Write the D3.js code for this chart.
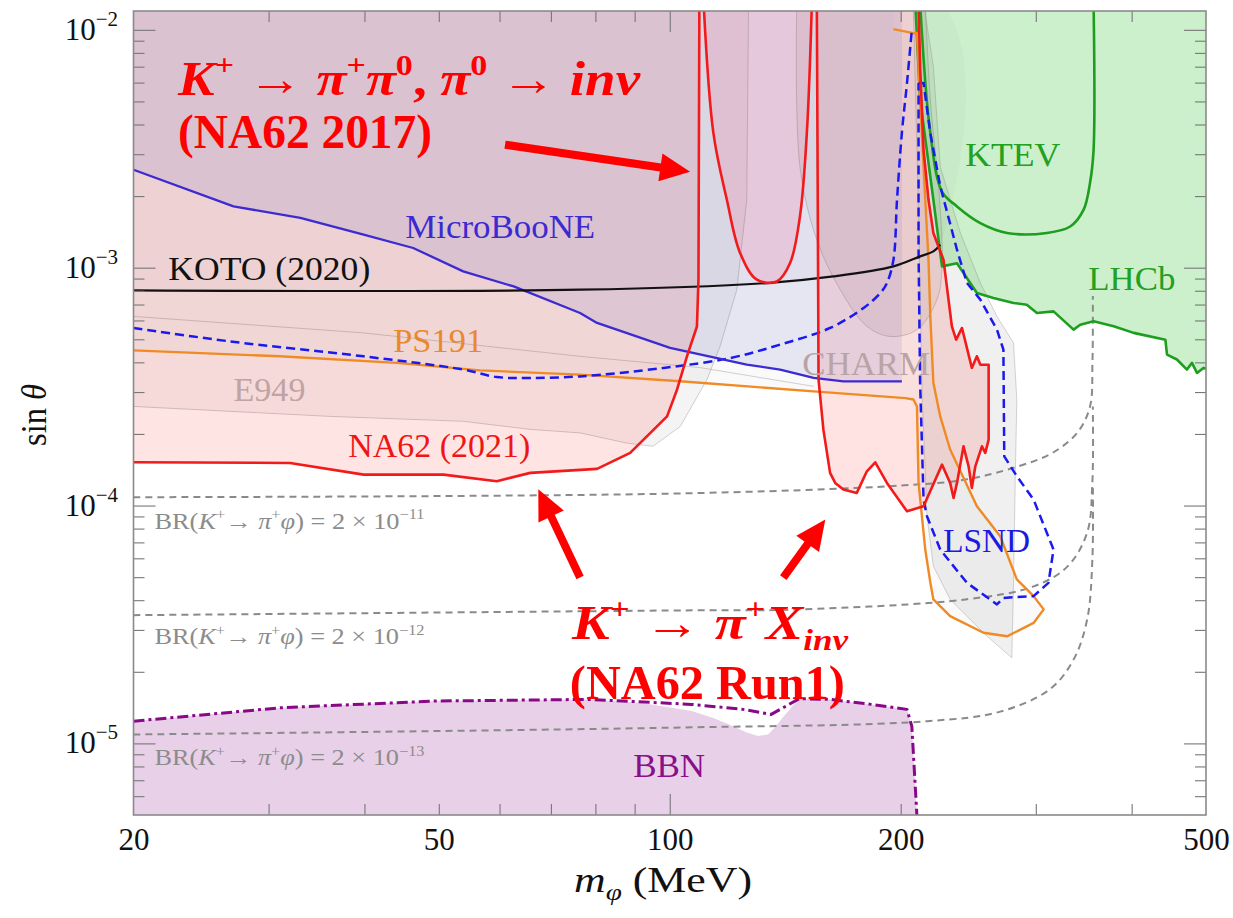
<!DOCTYPE html>
<html><head><meta charset="utf-8">
<script src="https://cdn.jsdelivr.net/npm/d3@7"></script>
<style>body{margin:0;background:#fff}svg{display:block;font-family:"Liberation Serif",serif}</style>
</head><body><svg id="c" width="1233" height="918"></svg>
<script>
// ---------------- data (mass in MeV, sin theta) ----------------
const xTickValues = [20, 50, 100, 200, 500];
const xTickLabels = ['20', '50', '100', '200', '500'];
const yTickValues = [1e-5, 1e-4, 1e-3, 1e-2];
const yTickExponents = ['\u22125', '\u22124', '\u22123', '\u22122'];

const na62_2021_low = [[20,1.52e-4],[32,1.51e-4],[39.9,1.349e-4],[50.7,1.349e-4],[59.5,1.265e-4],[65.8,1.372e-4],[80.4,1.426e-4],[88.8,1.665e-4],[99.2,2.37e-4],[102.2,3.07e-4],[105.3,4.24e-4],[108.5,5.66e-4],[109.0,8.9e-4],[109.3,1.3e-2]];
const na62_2021_high = [[155.5,1.3e-2],[156.3,3.38e-4],[158.6,2.08e-4],[161.8,1.372e-4],[164.3,1.245e-4],[168.4,1.167e-4],[175.3,1.13e-4],[180.7,1.393e-4],[185.3,1.52e-4],[191.9,1.245e-4],[203.8,9.46e-5],[214.2,9.93e-5],[226.4,1.486e-4],[232,1.245e-4],[234.4,1.076e-4],[236.8,1.245e-4],[241.5,1.774e-4],[245.2,1.462e-4],[247.6,1.186e-4],[250.2,1.462e-4],[255.2,1.774e-4],[257.8,1.664e-4],[260.4,1.89e-4],[260.4,3.91e-4],[254,3.91e-4],[251.4,4.24e-4],[247.6,3.79e-4],[240.4,5.58e-4],[236.2,4.98e-4],[233.2,5.67e-4],[227.4,1.08e-3],[220.6,1.4e-3],[217.4,1.93e-3],[214.2,3.13e-3],[212,7.0e-3],[211,1.3e-2]];
const na62_2017 = [[110.7,1.3e-2],[114,3.68e-3],[118.7,1.93e-3],[123.5,1.154e-3],[129.9,8.9e-4],[137.9,8.75e-4],[143.5,1.046e-3],[147.8,1.64e-3],[150.9,3.68e-3],[153.2,1.3e-2]];
const e949 = [[20,2.61e-4],[36.1,2.37e-4],[53.8,2.26e-4],[65.8,2.09e-4],[76.4,2.02e-4],[87.9,1.83e-4],[95.1,1.775e-4],[103.2,2.15e-4],[111.8,3.38e-4],[116.3,4.67e-4],[122.3,8.08e-4],[126,1.93e-3],[126.7,1.3e-2]];
const charm = [[146.4,1.3e-2],[147.8,2.66e-3],[155.5,1.31e-3],[166.8,8.08e-4],[180.7,5.67e-4],[193.8,5.14e-4],[210,5.49e-4],[223,7.34e-4],[226.4,1.013e-3],[224.8,1.93e-3],[218.6,5.08e-3],[215.3,1.3e-2]];
const grayBand = [[207.6,1.3e-2],[214.2,1.3e-2],[220.6,7.01e-3],[225.2,2.66e-3],[239.2,1.4e-3],[254,8.62e-4],[267,6.24e-4],[280.6,4.83e-4],[283.4,2.79e-4],[282,1.246e-4],[280.6,4.75e-5],[279.2,2.29e-5],[259.2,2.82e-5],[232,4.03e-5],[220.6,5.56e-5],[216.4,9.02e-5],[213.4,2.79e-4],[210.8,1.93e-3]];
const thinLine = [[20,6.24e-4],[39.9,5.32e-4],[76.4,4.24e-4],[109.6,3.8e-4],[154,3.17e-4]];
const ps191 = [[20,4.49e-4],[31,4.24e-4],[44.1,3.98e-4],[56.6,3.70e-4],[76.4,3.55e-4],[103.2,3.33e-4],[154,3.02e-4],[202.8,2.83e-4],[207.8,2.79e-4],[210,2.61e-4],[211,1.249e-4],[215.3,6.53e-5],[218.6,4.75e-5],[220.6,4.03e-5],[232,3.43e-5],[256.4,2.92e-5],[275.2,2.82e-5],[298,3.21e-5],[307.2,3.66e-5],[298,4.16e-5],[283.4,4.89e-5],[269.6,7.43e-5],[251.4,9.93e-5],[232,1.72e-4],[225.2,2.37e-4],[220.6,3.28e-4],[218.6,6.24e-4],[217.4,1.08e-3],[215.3,1.93e-3],[212,5.08e-3],[210,9.7e-3],[207.8,9.68e-3],[195.7,1.007e-2]];
const microboone = [[20,2.58e-3],[27,1.81e-3],[33,1.62e-3],[39.9,1.376e-3],[46.3,1.21e-3],[53.8,9.65e-4],[62.6,8.34e-4],[76.4,6.45e-4],[80.4,5.86e-4],[100.1,4.6e-4],[126,3.91e-4],[139.3,3.73e-4],[154,3.44e-4],[168.4,3.33e-4],[200.7,3.33e-4]];
const koto = [[20,8.03e-4],[76.4,8.08e-4],[133.9,8.62e-4],[163.4,9.19e-4],[195.7,1.013e-3],[212,1.116e-3],[220.6,1.171e-3],[225.2,1.249e-3]];
const dashedBlueLeft = [[20,5.58e-4],[26.7,4.9e-4],[39.9,4.24e-4],[53.8,3.73e-4],[59.5,3.47e-4],[65.8,3.44e-4],[76.4,3.49e-4],[98.1,3.79e-4],[119.9,4.17e-4],[139.3,4.75e-4],[161.8,5.58e-4],[178.9,6.77e-4],[188.1,7.82e-4],[191.9,8.62e-4],[195.7,1.08e-3],[197.8,1.93e-3],[200.7,3.68e-3],[203.8,5.97e-3],[206.8,1e-2]];
const lsnd = [[211,5.97e-3],[214.2,5.97e-3],[218.6,3.68e-3],[225.2,2.2e-3],[236.8,1.19e-3],[244,8.62e-4],[254,7.34e-4],[267,5.49e-4],[272.2,4.52e-4],[272.9,1.61e-4],[283.4,1.328e-4],[298,1.06e-4],[316.4,6.53e-5],[311.6,4.73e-5],[298,4.16e-5],[272.2,4.09e-5],[267,3.84e-5],[244,4.73e-5],[225.2,6.53e-5],[216.4,9.02e-5],[214.2,1.06e-4],[212,3.29e-4],[211,1.19e-3],[211,5.97e-3]];
const lhcb = [[208.9,1.3e-2],[212,5.08e-3],[220.6,1.93e-3],[225.2,1.156e-3],[226.4,1.013e-3],[236.8,1.043e-3],[251.4,7.82e-4],[264.2,7.46e-4],[280.6,7.11e-4],[292,6.99e-4],[301,6.45e-4],[316.4,6.55e-4],[336,5.49e-4],[342.8,5.76e-4],[356.8,5.95e-4],[379,5.67e-4],[402.4,5.32e-4],[442.6,4.98e-4],[444.8,4.31e-4],[458.2,4.11e-4],[472.2,3.73e-4],[479.4,3.98e-4],[486.6,3.61e-4],[496.2,3.79e-4],[505,3.73e-4]];
const ktev = [[212,1.3e-2],[218.6,3.68e-3],[226.4,2.09e-3],[236.8,1.81e-3],[254,1.54e-3],[275.2,1.4e-3],[310.2,1.4e-3],[332.6,1.49e-3],[346.2,1.75e-3],[353,2.27e-3],[356.8,3.13e-3],[356.8,1.3e-2]];
const br11 = [[20,1.084e-4],[100,1.122e-4],[200,1.213e-4],[243,1.286e-4],[284,1.459e-4],[316,1.671e-4],[340,2.03e-4],[353,2.61e-4],[355.6,4e-4],[356,7.6e-4]];
const br12 = [[20,3.46e-5],[100,3.62e-5],[147.8,3.66e-5],[243,4.03e-5],[298,4.57e-5],[330,5.55e-5],[350,7.7e-5],[355.5,1.25e-4],[356,2.61e-4]];
const br13 = [[20,1.09e-5],[100,1.164e-5],[216.6,1.24e-5],[269.6,1.36e-5],[313,1.69e-5],[336,2.25e-5],[350,3.32e-5],[355.5,5.9e-5],[356,1.25e-4]];
const bbnLine = [[20,1.24e-5],[31.2,1.413e-5],[49.5,1.507e-5],[78.5,1.531e-5],[106.8,1.459e-5],[124.6,1.39e-5],[135.6,1.324e-5],[147.5,1.542e-5],[161.8,1.531e-5],[183,1.459e-5],[203.8,1.39e-5],[206.8,1.18e-5],[210.1,4.8e-6]];
const bbnFill = [[20,1.24e-5],[31.2,1.413e-5],[49.5,1.507e-5],[78.5,1.531e-5],[91.6,1.483e-5],[106.8,1.367e-5],[114,1.28e-5],[120.8,1.183e-5],[126,1.11e-5],[130.4,1.074e-5],[134.5,1.092e-5],[137.5,1.18e-5],[140.9,1.303e-5],[147.5,1.542e-5],[161.8,1.531e-5],[183,1.459e-5],[203.8,1.39e-5],[206.8,1.18e-5],[210.1,4.8e-6],[19,4.8e-6]];

const regionLabels = [
  {t:'MicroBooNE', m:45.2, s:1.337e-3, w:190, c:'#3a2ad0'},
  {t:'KOTO (2020)', m:22.2, s:8.9e-4, w:202, c:'#111111'},
  {t:'PS191', m:43.6, s:4.44e-4, w:90, c:'#e8892e'},
  {t:'E949', m:27.0, s:2.76e-4, w:72, c:'#c0a3a3'},
  {t:'NA62 (2021)', m:38.1, s:1.607e-4, w:182, c:'#f01515'},
  {t:'CHARM', m:148.8, s:3.55e-4, w:128, c:'#b9a3a5'},
  {t:'KTEV', m:242.8, s:2.68e-3, w:95, c:'#22a022'},
  {t:'LHCb', m:351.2, s:8.08e-4, w:87, c:'#22a022'},
  {t:'LSND', m:227.2, s:6.35e-5, w:87, c:'#1a1ae0'},
  {t:'BBN', m:89.6, s:7.2e-6, w:72, c:'#8a108a'}
];
const brLabels = [
  {exp:'\u221211', m:21.3, s:8.0e-5},
  {exp:'\u221212', m:21.3, s:2.61e-5},
  {exp:'\u221213', m:21.3, s:8.08e-6}
];
const arrows = [
  {from:[61.0,3.29e-3], to:[106.3,2.53e-3]},
  {from:[76.4,4.98e-5], to:[67.4,1.17e-4]},
  {from:[140.6,4.98e-5], to:[159.5,8.73e-5]}
];

// ---------------- drawing ----------------
const svg = d3.select('#c');
const L=133.5, R=1206, T=11, B=815;
const x = d3.scaleLog().domain([20,500]).range([L,R]);
const y = d3.scaleLog().domain([5e-6,1.2e-2]).range([B,T]);
const TOPV = 1.3e-2;

svg.append('rect').attr('width',1233).attr('height',918).attr('fill','#fff');
svg.append('defs').append('clipPath').attr('id','clip').append('rect')
  .attr('x',L).attr('y',T).attr('width',R-L).attr('height',B-T);
const plot = svg.append('g').attr('clip-path','url(#clip)');

const lin = d3.line().x(d=>x(d[0])).y(d=>y(d[1]));
const smooth = d3.line().x(d=>x(d[0])).y(d=>y(d[1])).curve(d3.curveCatmullRom.alpha(0.5));

function fillPoly(pts, fill, gen=lin){
  plot.append('path').attr('d', gen(pts)+'Z').attr('fill', fill).attr('stroke','none');
}
function stroke(pts, color, w, dash, gen=lin, op=1){
  const p = plot.append('path').attr('d', gen(pts)).attr('fill','none')
    .attr('stroke', color).attr('stroke-width', w).attr('stroke-opacity',op)
    .attr('stroke-linejoin','round');
  if (dash) p.attr('stroke-dasharray', dash);
  return p;
}

// fills
fillPoly(e949.concat([[19,TOPV]]), 'rgba(125,105,105,0.075)');
fillPoly(charm, 'rgba(125,105,105,0.10)', smooth);
fillPoly(grayBand, 'rgba(150,150,150,0.14)');
fillPoly(na62_2021_low.concat([[19,TOPV]]), 'rgba(255,0,0,0.105)');
fillPoly(na62_2021_high, 'rgba(255,0,0,0.11)');
fillPoly(ps191.concat([[195.7,TOPV],[19,TOPV]]), 'rgba(140,130,130,0.04)');
fillPoly(microboone.concat([[200.7,TOPV],[19,TOPV]]), 'rgba(80,75,190,0.115)');
fillPoly(koto.concat([[225.2,TOPV],[19,TOPV]]), 'rgba(150,80,150,0.035)', smooth);
fillPoly(na62_2017, 'rgba(255,30,70,0.12)', smooth);
fillPoly(lhcb.concat([[505,TOPV]]), 'rgba(0,175,0,0.2)');
fillPoly(bbnFill, 'rgba(140,20,140,0.2)');

// outlines of gray regions
stroke(e949, 'rgb(120,100,100)', 1, null, lin, 0.3);
stroke(charm, 'rgb(120,100,100)', 1, null, smooth, 0.3);
stroke(grayBand.concat([grayBand[0]]), 'rgb(120,120,120)', 1, null, lin, 0.3);
stroke(thinLine, 'rgb(120,100,100)', 1, null, lin, 0.3);

// branching-ratio dashed lines
[br11, br12, br13].forEach(d => stroke(d, '#8a8a8a', 2, '7,5', smooth));

// green
stroke(lhcb, '#1e9e1e', 2.6);
stroke(ktev, '#1e9e1e', 2.6, null, smooth);
// orange
stroke(ps191, '#f08a24', 2.4);
// blue dashed
stroke(dashedBlueLeft, '#1a1af0', 2.5, '9,5', smooth);
stroke(lsnd, '#1a1af0', 2.5, '9,5');
// MicroBooNE
stroke(microboone, '#3b2bd0', 2.3);
// KOTO
stroke(koto, '#111', 2.2, null, smooth);
// red
stroke(na62_2021_low, '#f21a1a', 2.6);
stroke(na62_2021_high, '#f21a1a', 2.6);
stroke(na62_2017, '#f21a1a', 2.6, null, smooth);
// BBN
stroke(bbnLine, '#880888', 3, '11,4,3,4');

// labels inside the plot
const labG = svg.append('g').attr('clip-path','url(#clip)');
regionLabels.forEach(l => {
  labG.append('text').attr('x', x(l.m)).attr('y', y(l.s)).text(l.t)
    .attr('fill', l.c).attr('font-size', 33)
    .attr('textLength', l.w).attr('lengthAdjust','spacingAndGlyphs');
});

function rich(textSel, segs, size){
  let shift = 0;
  segs.forEach(sg => {
    const ts = textSel.append('tspan').text(sg.t);
    let target = 0, fs = size;
    if (sg.sup){ target = -size*0.42; fs = size*0.62; }
    if (sg.sub){ target = size*0.22; fs = size*0.62; }
    ts.attr('dy', target - shift).attr('font-size', fs);
    shift = target;
    if (sg.it) ts.attr('font-style','italic');
  });
}

brLabels.forEach(b => {
  const t = labG.append('text').attr('x', x(b.m)).attr('y', y(b.s))
    .attr('fill','#8c8c8c').attr('font-size', 23)
    .attr('textLength', 270).attr('lengthAdjust','spacingAndGlyphs');
  rich(t, [{t:'BR('},{t:'K',it:1},{t:'+',sup:1},{t:'\u2192 '},{t:'\u03c0',it:1},{t:'+',sup:1},
           {t:'\u03c6',it:1},{t:') = 2 \u00d7 10'},{t:b.exp,sup:1}], 23);
});

// red annotations
const ann = svg.append('g').attr('fill','#ff0000').attr('font-weight','bold');
const a1 = ann.append('text').attr('x', x(22.86)).attr('y', y(5.33e-3)).attr('font-size',48)
  .attr('textLength', 462).attr('lengthAdjust','spacingAndGlyphs');
rich(a1, [{t:'K',it:1},{t:'+',sup:1},{t:' \u2192 '},{t:'\u03c0',it:1},{t:'+',sup:1},{t:'\u03c0',it:1},{t:'0',sup:1},
          {t:', '},{t:'\u03c0',it:1},{t:'0',sup:1},{t:' \u2192 '},{t:'inv',it:1}], 48);
ann.append('text').attr('x', x(22.86)).attr('y', y(3.19e-3)).attr('font-size',48)
  .attr('textLength', 254).attr('lengthAdjust','spacingAndGlyphs').text('(NA62 2017)');
const a3 = ann.append('text').attr('x', x(74.6)).attr('y', y(2.74e-5)).attr('font-size',48)
  .attr('textLength', 276).attr('lengthAdjust','spacingAndGlyphs');
rich(a3, [{t:'K',it:1},{t:'+',sup:1},{t:' \u2192 '},{t:'\u03c0',it:1},{t:'+',sup:1},{t:'X',it:1},{t:'inv',it:1,sub:1}], 48);
ann.append('text').attr('x', x(74.1)).attr('y', y(1.53e-5)).attr('font-size',48)
  .attr('textLength', 275).attr('lengthAdjust','spacingAndGlyphs').text('(NA62 Run1)');

arrows.forEach(a => {
  const x0=x(a.from[0]), y0=y(a.from[1]), x1=x(a.to[0]), y1=y(a.to[1]);
  const dx=x1-x0, dy=y1-y0, len=Math.hypot(dx,dy), ux=dx/len, uy=dy/len;
  const hl=30, hw=14;
  const bx=x1-ux*hl, by=y1-uy*hl;
  ann.append('line').attr('x1',x0).attr('y1',y0).attr('x2',bx+ux*2).attr('y2',by+uy*2)
    .attr('stroke','#ff0000').attr('stroke-width',8);
  ann.append('path').attr('d', `M${x1},${y1}L${bx-uy*hw},${by+ux*hw}L${bx+uy*hw},${by-ux*hw}Z`).attr('fill','#ff0000');
});

// ---------------- axes ----------------
const xMinor = [30,40,50,60,70,80,90,200,300,400];
const xMajor = [100];
const yMinor = [];
[1e-6,1e-5,1e-4,1e-3].forEach(dec => { for (let k=2;k<=9;k++){ const v=k*dec; if(v>=5e-6 && v<=1.2e-2) yMinor.push(v);} });

function styleAxis(g){ g.select('.domain').remove(); g.selectAll('line').attr('stroke','#777').attr('stroke-width',1.1); g.selectAll('text').remove(); }
svg.append('g').attr('transform',`translate(0,${B})`).call(d3.axisBottom(x).tickValues(xMinor).tickSize(-11)).call(styleAxis);
svg.append('g').attr('transform',`translate(0,${B})`).call(d3.axisBottom(x).tickValues(xMajor).tickSize(-21)).call(styleAxis);
svg.append('g').attr('transform',`translate(0,${T})`).call(d3.axisTop(x).tickValues(xMinor).tickSize(-11)).call(styleAxis);
svg.append('g').attr('transform',`translate(0,${T})`).call(d3.axisTop(x).tickValues(xMajor).tickSize(-21)).call(styleAxis);
svg.append('g').attr('transform',`translate(${L},0)`).call(d3.axisLeft(y).tickValues(yMinor).tickSize(-11)).call(styleAxis);
svg.append('g').attr('transform',`translate(${L},0)`).call(d3.axisLeft(y).tickValues(yTickValues).tickSize(-22)).call(styleAxis);
svg.append('g').attr('transform',`translate(${R},0)`).call(d3.axisRight(y).tickValues(yMinor).tickSize(-11)).call(styleAxis);
svg.append('g').attr('transform',`translate(${R},0)`).call(d3.axisRight(y).tickValues(yTickValues).tickSize(-22)).call(styleAxis);

svg.append('rect').attr('x',L).attr('y',T).attr('width',R-L).attr('height',B-T)
  .attr('fill','none').attr('stroke','#8a8a8a').attr('stroke-width',1.6);

// tick labels
const xl = svg.append('g').attr('transform',`translate(0,${B})`)
  .call(d3.axisBottom(x).tickValues(xTickValues).tickSize(0).tickPadding(13).tickFormat((d,i)=>xTickLabels[i]));
xl.select('.domain').remove();
xl.selectAll('text').attr('font-family','"Liberation Serif",serif').attr('font-size',31).attr('fill','#111');

yTickValues.forEach((v,i) => {
  const t = svg.append('text').attr('x', 118).attr('y', y(v)+10).attr('text-anchor','end')
    .attr('font-size', 31).attr('fill','#111');
  t.append('tspan').text('10');
  t.append('tspan').text(yTickExponents[i]).attr('font-size',21).attr('dy',-14);
});

// axis titles
const yt = svg.append('text').attr('transform','translate(46,415) rotate(-90)').attr('text-anchor','middle')
  .attr('font-size',36).attr('fill','#111').attr('textLength',62).attr('lengthAdjust','spacingAndGlyphs');
yt.append('tspan').text('sin ');
yt.append('tspan').text('\u03b8').attr('font-style','italic');
const xt = svg.append('text').attr('x', 574).attr('y', 892).attr('font-size',36).attr('fill','#111')
  .attr('textLength',178).attr('lengthAdjust','spacingAndGlyphs');
xt.append('tspan').text('m').attr('font-style','italic');
xt.append('tspan').text('\u03c6').attr('font-style','italic').attr('font-size',24).attr('dy',8);
xt.append('tspan').text(' (MeV)').attr('dy',-8);
</script></body></html>
